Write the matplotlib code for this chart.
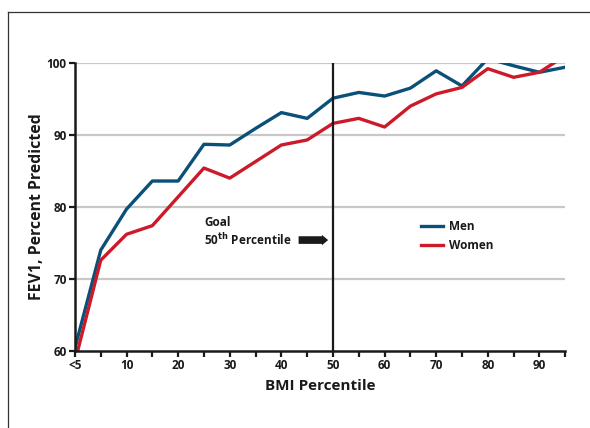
import matplotlib
matplotlib.use('Agg')
import matplotlib.pyplot as plt
from matplotlib.lines import Line2D

plt.rcParams['font.family'] = ['Open Sans', 'DejaVu Sans']

# BMI percentile positions (0 stands for "<5")
bmi_pct = [0, 5, 10, 15, 20, 25, 30, 35, 40, 45, 50, 55, 60, 65, 70, 75, 80, 85, 90, 95]
men = [60.4, 74.0, 79.7, 83.6, 83.6, 88.7, 88.6, 90.9, 93.1, 92.3, 95.1, 95.9, 95.4, 96.5,
       98.9, 96.8, 100.6, 99.6, 98.7, 99.4]
women = [58.5, 72.6, 76.2, 77.4, 81.4, 85.4, 84.0, 86.3, 88.6, 89.3, 91.6, 92.3, 91.1, 94.0,
         95.7, 96.6, 99.2, 98.0, 98.7, 101.0]

x_ticks = list(range(0, 100, 5))
x_labels = ['<5' if t == 0 else (str(t) if t % 10 == 0 else '') for t in x_ticks]
y_ticks = [60, 70, 80, 90, 100]

men_color = '#0b5079'
women_color = '#cc1a2b'
ink = '#1a1a1a'

fig = plt.figure(figsize=(5.9, 4.28), dpi=100)
ax = fig.add_axes([0.127, 0.180, 0.831, 0.673])

for y in y_ticks[1:]:
    ax.axhline(y, color='#c8c8c8', lw=1.6, zorder=1)

ax.plot(bmi_pct, men, color=men_color, lw=2.4, label='Men', zorder=3)
ax.plot(bmi_pct, women, color=women_color, lw=2.4, label='Women', zorder=3)
ax.axvline(50, color=ink, lw=1.6, zorder=4)

ax.set_xlim(0, 95)
ax.set_ylim(60, 100)
ax.set_xticks(x_ticks)
ax.set_xticklabels(x_labels)
ax.set_yticks(y_ticks)

for s in ['top', 'right']:
    ax.spines[s].set_visible(False)
for s in ['left', 'bottom']:
    ax.spines[s].set_color(ink)
    ax.spines[s].set_linewidth(1.8)
    ax.spines[s].set_zorder(5)

ax.tick_params(axis='both', direction='out', length=4, width=1.6, color=ink,
               labelsize=8.5, labelcolor=ink, pad=2)
for lbl in ax.get_xticklabels() + ax.get_yticklabels():
    lbl.set_fontweight('bold')

ax.set_xlabel('BMI Percentile', fontsize=11, fontweight='bold', color=ink, labelpad=5)
ax.set_ylabel('FEV1, Percent Predicted', fontsize=11.4, fontweight='bold', color=ink, labelpad=1)

ax.text(25, 77.9, 'Goal', fontsize=8.5, fontweight='bold', color=ink, va='center')
ax.text(25, 75.4, '50$^{\\mathbf{th}}$ Percentile', fontsize=8.5, fontweight='bold',
        color=ink, va='center')
ax.annotate('', xy=(49.6, 75.4), xytext=(42.8, 75.4),
            arrowprops=dict(arrowstyle='simple,head_length=0.45,head_width=0.75,tail_width=0.55',
                            color=ink, lw=0))

leg = ax.legend(loc='upper left', bbox_to_anchor=(0.685, 0.49), frameon=False,
                fontsize=8.5, handlelength=1.8, handletextpad=0.5, labelspacing=0.45)
for t in leg.get_texts():
    t.set_fontweight('bold')
    t.set_color(ink)

# thin frame on the left and top edges of the figure
fig.add_artist(Line2D([0.014, 0.014], [0.0, 0.972], transform=fig.transFigure,
                      color='#333333', lw=0.9))
fig.add_artist(Line2D([0.014, 1.0], [0.972, 0.972], transform=fig.transFigure,
                      color='#333333', lw=0.9))

fig.savefig('out.png', dpi=100)
